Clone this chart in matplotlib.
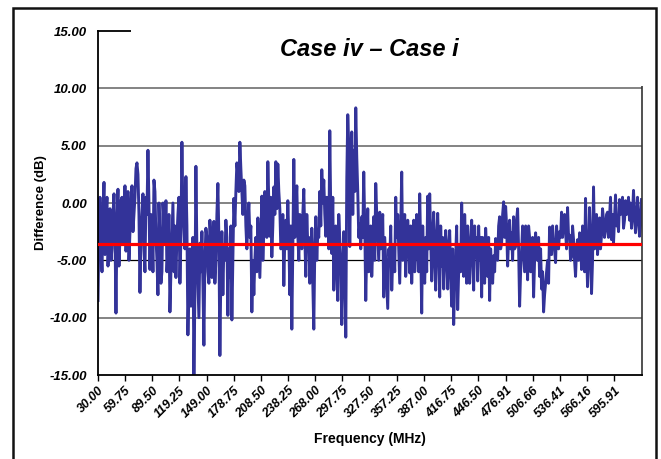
import numpy as np
import matplotlib.pyplot as plt
from matplotlib.patches import Rectangle

plt.rcParams['font.family'] = ['Liberation Sans', 'DejaVu Sans']

# difference (dB), evenly spaced from 30 to 625.66 MHz
diff_db = [
    # 30 - 100 MHz
    -8.5, -2, 0.5, -3.5, -6, -1, 1.8, -4.5, -1, 0.5, -5.5, -3, -0.5, -5, -4, -1,
    0.8, -3, -9.6, -2, 1.2, -5.5, -3, 0.2, 0.5, -3.5, -1.5, 1.5, -4.2, -2, 1.0, -5,
    -2.5, 0, 1.5, -2.5, -1, 0.5, 3.0, 3.5, 2.5, -1, -7.8, -3, -1, 0.8, -4, -6,
    0.5, -1, 4.6, 0, -5.8, -1, -2, -6, 2.0, 1.0, -3, -5, -8, 0, -3, -7,
    -6, 0, -1.5, -3.5, 0.2, -6, -4, -1, -9.5, -6, -3, 0, -6, -2,
    # 100 - 185 MHz
    -6.5, -3, -1, 0.5, -7, -3, 5.3, -1, -2, -4, 2.3, -2, -11.5, -7, -4, -9,
    -6, -3, -15, -8, 3.2, -4, -7, -10, -3.5, -6, -2.5, -7, -12.4, -5, -2.2, -3,
    -6, -7, -1.5, -3, -6.5, -4, -1.6, -7, -5, -1, 1.7, -3, -13.3, -6, -2.5, -8,
    -3.8, -5, -1.5, -3, -9.8, -4, -6.5, -2, -10.2, -5, 0.4, -2, 1.0, 3.5, 2.5, 1,
    5.3, 3, 1.0, -1, 2.0, 1.5, -2, -4, -1.5, 0, -3, -2, -9.5, -5,
    # 185 - 270 MHz
    -8, -5, -3, -6, -1.3, -4, -6.5, -3, 0.6, -5, -2.5, 1, 0, -3, 3.6, 0,
    -2.9, 0.5, -4.7, -2, 1.4, -1, 3.6, -0.5, 3.4, 1, -0.5, -4, -3.8, -1, -7.2, -3,
    -1.5, -4, 0.2, -3, -8, -2, -11, -4, 3.8, -3, -0.5, 1.5, -2.8, -5, -1, -2,
    -4, -1, 1.2, -3, -6.4, -1, -3.8, -3, -7, -5, -2.2, -7, -11, -4, -1.2, -5,
    -2.6, -3, 1.0, -2, 2.9, 0, 2.0, -1, -2.9, 0.5, -1, -4, 6.3, -1,
    # 270 - 355 MHz
    -4.4, 0.5, -7.6, -3, -2, -6, -8.5, -1, -3.2, -5, -10.6, -7, -2.5, -4, -11.7, 2,
    7.7, 5, -3.8, 3, 6.2, -1, 4.6, 1, 8.3, 4, 1.0, -3, -1.8, -4, -1.2, -3,
    2.7, -2, -8.5, -4, -0.5, -6, -4.5, -2, -6.4, -4, -1.2, -5, 1.7, -1, -3, -5,
    -0.8, -4, -2.4, -1, -8.2, -3, -5, -7, -9.2, -4, -5, -2, -7.6, -5, -3.8, -6,
    0.5, -3, -1, -4, -7, -2, 2.7, -5, -2.4, -1, -6.4, -4, -1.5, -3,
    # 355 - 440 MHz
    -6.1, -2, -7, -4, -1.5, -6, -4.6, -1, -2.5, -6, 0.8, -4, -9.6, -2, -5.5, -7,
    -3, -6, 0.6, -4, 0.8, -3, -6.8, -3, -0.8, -5, -7.6, -3, -0.9, -4, -8.2, -2,
    -5.5, -3, -7.5, -5, -2.4, -4, -7.5, -4, -2.4, -6, -9, -4, -10.6, -7, -4.7, -2,
    -9.3, -6, -3.8, -6, 0, -4, -6.4, -1, -3.9, -7, -2, -4, -7, -4, -1.5, -4,
    -7.6, -2, -4.7, -3, -6.8, -2, -5, -3, -8.2, -3, -5.8, -7, -2.2, -4,
    # 440 - 540 MHz
    -6.4, -3, -8.5, -4, -5.8, -7, -4.6, -6, -3.1, -4, -5, -2, -1.2, -4, -3.5, -1,
    0.1, -3, -0.3, -2, -5.5, -3, -1.5, -4, -2.6, -5, -1.2, -4, -3.8, -1.5, -0.5, -4,
    -9, -6, -4.2, -2, -4, -6, -2, -4, -6.7, -2, -3, -6, -5.5, -3, -8.2, -5,
    -2.6, -4, -5, -3, -6.4, -4, -7.5, -6, -9.5, -8, -7, -6, -5, -7, -2.1, -3,
    -4.5, -2, -3.5, -4, -5.2, -2, -3.6, -4, -2.5, -3, -0.8, -3, -1.4, -1,
    # 540 - 625.66 MHz
    -2.5, -4, -0.4, -3, -2.8, -5, -4.7, -2, -3.2, -5, -6.4, -4, -3.2, -5, -2.6, -3,
    -5.8, -2, -3.5, -6, 0.4, -4, -7.3, -5, -0.4, -3, -7.9, -5, 1.4, -4, -2.6, -1,
    -4.5, -3, -1.3, -4, -2.8, -0.5, -1.5, -3, -2.4, -1, -0.8, -3, -1.2, 0.5, -3.2, -1,
    -3.5, -1.5, 0.7, -2, -1.2, -2.5, 0.3, -1, -0.9, 0.5, -2.2, -1.5, 0.2, -1, -0.9, 0.5,
    -1.5, 0, -2.2, -1, 1.1, -1, -2.6, -1.5, 0.5, -1, -2.9, -2, 0.3,
]
freq_mhz = np.linspace(30.0, 625.66, len(diff_db))
mean_diff = -3.6

tick_freqs = [30.00, 59.75, 89.50, 119.25, 149.00, 178.75, 208.50, 238.25, 268.00,
              297.75, 327.50, 357.25, 387.00, 416.75, 446.50, 476.91, 506.66,
              536.41, 566.16, 595.91]

fig = plt.figure(figsize=(6.61, 4.59), dpi=100)
ax = fig.add_axes([98 / 661, 1 - 375 / 459, 543.5 / 661, 344 / 459])

# grid lines
for yv in [10, 5, 0, -10]:
    ax.axhline(yv, color='#7a7a7a', lw=1.3, zorder=1)
ax.axhline(-5, color='black', lw=0.9, zorder=1)

ax.plot(freq_mhz, diff_db, color='#333399', lw=2.1, zorder=2)
ax.axhline(mean_diff, color='#ff0000', lw=2.3, zorder=3)

ax.set_xlim(30.0, 625.66)
ax.set_ylim(-15, 15)
ax.set_yticks(np.arange(-15, 16, 5))
ax.set_yticklabels([f'{v:.2f}' for v in np.arange(-15, 16, 5)],
                   fontsize=9.5, fontweight='bold', fontstyle='italic')
ax.tick_params(axis='y', length=0, pad=8)
ax.set_xticks(tick_freqs)
ax.set_xticklabels([f'{v:.2f}' for v in tick_freqs], rotation=45, ha='right',
                   rotation_mode='anchor', fontsize=9, fontweight='bold',
                   fontstyle='italic')
ax.tick_params(axis='x', length=4, width=1, direction='out', pad=3)

for s in ['left', 'bottom', 'top']:
    ax.spines[s].set_color('black')
    ax.spines[s].set_linewidth(1.3)
ax.spines['right'].set_color('#333333')
ax.spines['right'].set_linewidth(1.2)

ax.set_xlabel('Frequency (MHz)', fontsize=10, fontweight='bold', labelpad=8)
ax.set_ylabel('Difference (dB)', fontsize=9.5, fontweight='bold', labelpad=2)

# white title box over the top of the plot area
fig.add_artist(Rectangle((131 / 661, 1 - 86 / 459), 520 / 661, 66 / 459,
                         transform=fig.transFigure, facecolor='white',
                         edgecolor='none', zorder=5))
fig.text(369 / 661, 1 - 49 / 459, 'Case iv \u2013 Case i', ha='center', va='center',
         fontsize=17, fontweight='bold', fontstyle='italic', zorder=6)

# outer chart border
fig.add_artist(Rectangle((13 / 661, -0.05), 643 / 661, 1 - 8 / 459 + 0.05,
                         transform=fig.transFigure, facecolor='none',
                         edgecolor='#111111', lw=1.8, zorder=7))

fig.savefig('out.png', dpi=100)
